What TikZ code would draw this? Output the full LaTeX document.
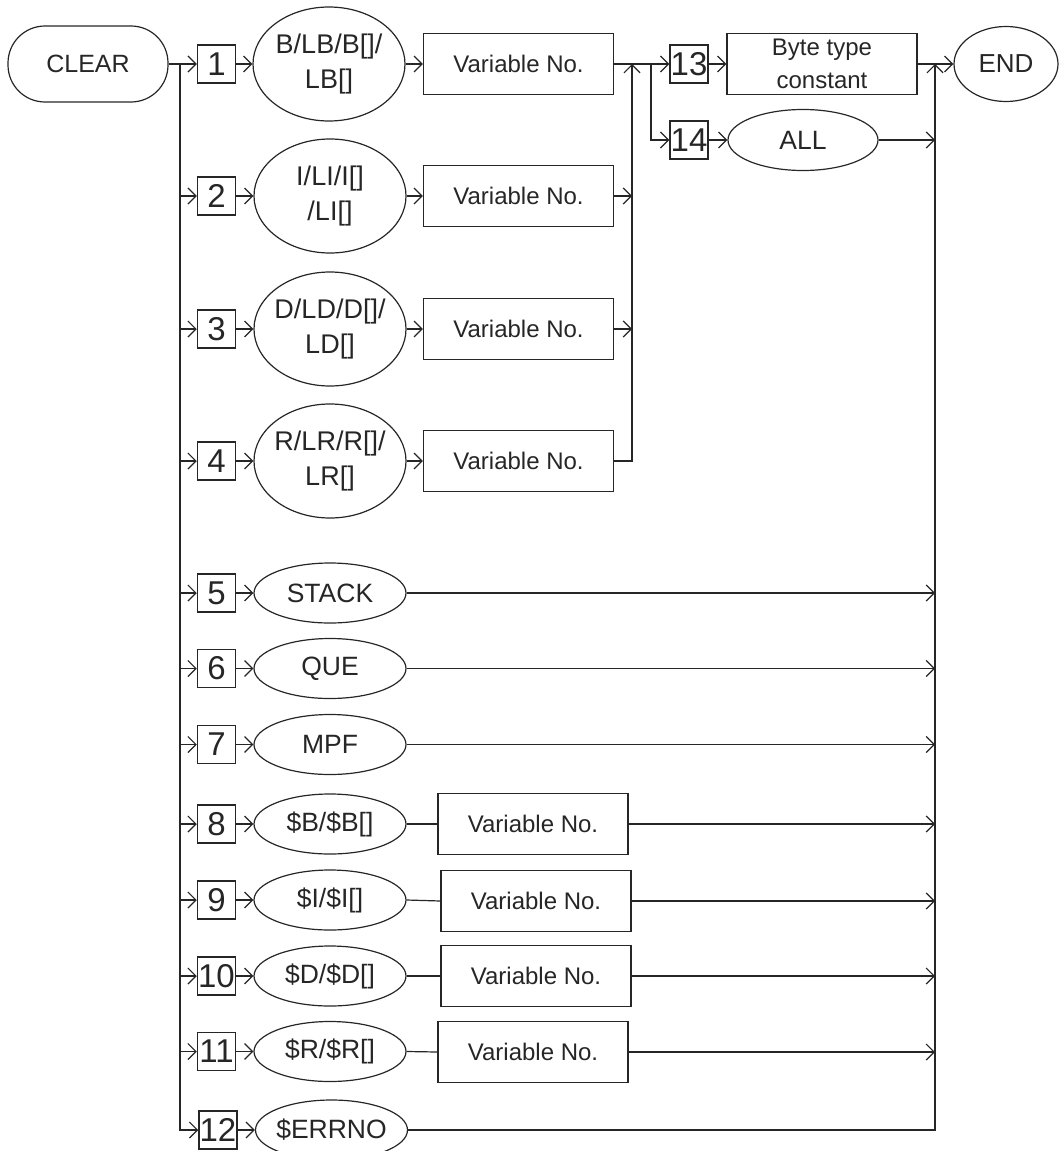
\documentclass[tikz,border=0pt]{standalone}
\usepackage{fontspec}
\setmainfont{Liberation Sans}
\usetikzlibrary{arrows.meta,shapes.geometric}
\begin{document}
\begin{tikzpicture}[x=1pt,y=-1pt,line width=1.2pt,color=black!85,
  base/.style={inner sep=0pt,font=\fontsize{24}{33}\selectfont,align=center},
  pill/.style={base,draw,rectangle,rounded corners=37pt,minimum width=160pt,minimum height=76pt,font=\fontsize{25}{33}\selectfont},
  numbox/.style={base,draw,rectangle,line width=1.5pt,minimum width=38pt,minimum height=38pt,font=\fontsize{33}{33}\selectfont},
  oval/.style={base,draw,ellipse,minimum width=152pt,minimum height=60pt,font=\fontsize{26.5}{34}\selectfont,inner xsep=-12pt,inner ysep=-8pt},
  bigoval/.style={base,draw,ellipse,minimum width=152pt,minimum height=114pt,font=\fontsize{27}{35}\selectfont,inner xsep=-14pt,inner ysep=-10pt},
  varbox/.style={base,draw,rectangle,minimum width=190pt,minimum height=61pt},
  arr/.style={-{Straight Barb[length=8pt,width=16pt,line width=1.2pt]}}]
\useasboundingbox (0,0) rectangle (1060,1151);
\clip (0,0) rectangle (1060,1151);

% start / end
\node[pill] (clear) at (88,64) {CLEAR};
\node[base,draw,ellipse,minimum width=104pt,minimum height=75pt,font=\fontsize{26}{33}\selectfont,inner sep=-8pt] (end) at (1006,64) {END};

% rows 1-4
\node[numbox] (n1) at (216.5,64) {1};
\node[bigoval] (e1) at (329,64) {B/LB/B[]/\\LB[]};
\node[varbox] (v1) at (518.5,64) {Variable No.};
\node[numbox] (n2) at (216.5,196) {2};
\node[bigoval] (e2) at (330,196) {I/LI/I[]\\/LI[]};
\node[varbox] (v2) at (518.5,196) {Variable No.};
\node[numbox] (n3) at (216.5,329) {3};
\node[bigoval] (e3) at (330,329) {D/LD/D[]/\\LD[]};
\node[varbox] (v3) at (518.5,329) {Variable No.};
\node[numbox] (n4) at (216.5,461) {4};
\node[bigoval] (e4) at (330,461) {R/LR/R[]/\\LR[]};
\node[varbox] (v4) at (518.5,461) {Variable No.};

% rows 13-14
\node[numbox] (n13) at (689,64) {13};
\node[varbox] (byte) at (822,64) {Byte type\\constant};
\node[numbox] (n14) at (689,140) {14};
\node[oval,minimum width=150pt,minimum height=61pt] (all) at (803,140) {ALL};

% rows 5-12
\node[numbox] (n5) at (216.5,593) {5};
\node[oval] (e5) at (330,593) {STACK};
\node[numbox] (n6) at (216.5,668.5) {6};
\node[oval] (e6) at (330,668.5) {QUE};
\node[numbox] (n7) at (216.5,744.5) {7};
\node[oval] (e7) at (330,744.5) {MPF};
\node[numbox] (n8) at (216.5,824) {8};
\node[oval] (e8) at (330,824) {\$B/\$B[]};
\node[varbox] (v8) at (533,824) {Variable No.};
\node[numbox] (n9) at (216.5,900) {9};
\node[oval] (e9) at (330,900) {\$I/\$I[]};
\node[varbox] (v9) at (536,901) {Variable No.};
\node[numbox] (n10) at (216.5,976) {10};
\node[oval] (e10) at (330,976) {\$D/\$D[]};
\node[varbox] (v10) at (536,976) {Variable No.};
\node[numbox] (n11) at (216.5,1051.5) {11};
\node[oval] (e11) at (330,1051.5) {\$R/\$R[]};
\node[varbox] (v11) at (533,1052) {Variable No.};
\node[numbox] (n12) at (218,1130) {12};
\node[oval] (e12) at (331.5,1130) {\$ERRNO};

% buses
\coordinate (lb) at (180,64);
\coordinate (mb) at (632,64);
\coordinate (sp) at (651,64);
\coordinate (rb) at (935,64);

% left bus
\draw (clear.east) -- (lb);
\draw[arr] (lb) -- (n1.west);
\draw[arr] (lb) |- (n12.west);
\foreach \k in {2,...,11} {\draw[arr] (lb |- n\k.west) -- (n\k.west);}
\foreach \k in {1,...,12} {\draw[arr] (n\k.east) -- (e\k.west);}

% rows 1-4 into merge bus
\foreach \k in {1,...,4} {\draw[arr] (e\k.east) -- (v\k.west);}
\draw[arr] (v4.east) -| (mb);
\draw[arr] (v2.east) -- (mb |- v2.east);
\draw[arr] (v3.east) -- (mb |- v3.east);
\draw[arr] (v1.east) -- (n13.west);
\draw[arr] (sp) |- (n14.west);
\draw[arr] (n13.east) -- (byte.west);
\draw[arr] (n14.east) -- (all.west);
\draw[arr] (byte.east) -- (end.west);

% right bus
\draw[arr] (e12.east) -| (rb);
\draw[arr] (all.east) -- (rb |- all.east);
\foreach \k in {5,6,7} {\draw[arr] (e\k.east) -- (rb |- e\k.east);}
\foreach \k in {8,...,11} {
  \draw (e\k.east) -- (v\k.west);
  \draw[arr] (v\k.east) -- (rb |- v\k.east);
}
\end{tikzpicture}
\end{document}
